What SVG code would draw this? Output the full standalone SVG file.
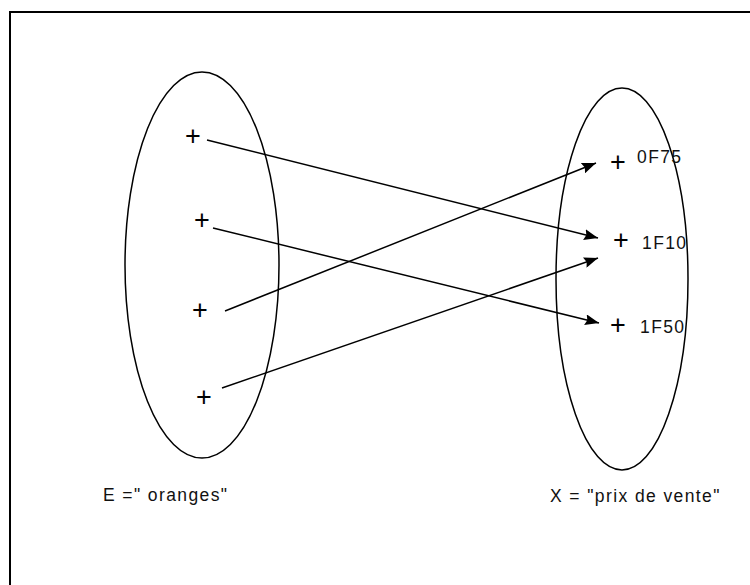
<svg xmlns="http://www.w3.org/2000/svg" width="750" height="585" viewBox="0 0 750 585">
<style>
.sh{fill:none;stroke:#000;stroke-width:1.5}
.c{stroke:#000;stroke-width:1.5;fill:none;marker-end:url(#ah)}
.t{font-family:"Liberation Sans",Arial,sans-serif;font-size:17.5px;letter-spacing:1.4px;fill:#111}
.p{font-family:"Liberation Sans",Arial,sans-serif;font-size:27px;fill:#000;text-anchor:middle}
</style>
<defs>
<marker id="ah" viewBox="0 0 14 11" refX="14" refY="5.5" markerWidth="14" markerHeight="11" markerUnits="userSpaceOnUse" orient="auto">
<path d="M0,0 L14,5.5 L0,11 L2,5.5 Z" fill="#000"/>
</marker>
</defs>
<rect width="750" height="585" fill="#fff"/>
<path d="M10,585 V12 H750" fill="none" stroke="#000" stroke-width="2"/>
<g id="setE">
<ellipse class="sh" cx="202" cy="265" rx="77" ry="193"/>
<text class="t" x="103" y="501">E =" oranges"</text>
</g>
<g id="setX">
<ellipse class="sh" cx="622" cy="279" rx="66" ry="191"/>
<text class="t" x="550" y="502">X = "prix de vente"</text>
</g>
<g id="e1"><text class="p" x="193" y="145">+</text></g>
<g id="e2"><text class="p" x="202" y="229">+</text></g>
<g id="e3"><text class="p" x="200" y="319">+</text></g>
<g id="e4"><text class="p" x="204" y="406">+</text></g>
<g id="x1"><text class="p" x="618" y="171">+</text><text class="t" x="637" y="163">0F75</text></g>
<g id="x2"><text class="p" x="621" y="249">+</text><text class="t" x="642" y="249">1F10</text></g>
<g id="x3"><text class="p" x="618" y="334">+</text><text class="t" x="640" y="333">1F50</text></g>
<g id="connectors">
<line class="c" x1="207" y1="140" x2="598" y2="238"/>
<line class="c" x1="213" y1="228" x2="599" y2="323"/>
<line class="c" x1="225" y1="311" x2="596" y2="163"/>
<line class="c" x1="222" y1="388" x2="598" y2="258"/>
</g>
</svg>
